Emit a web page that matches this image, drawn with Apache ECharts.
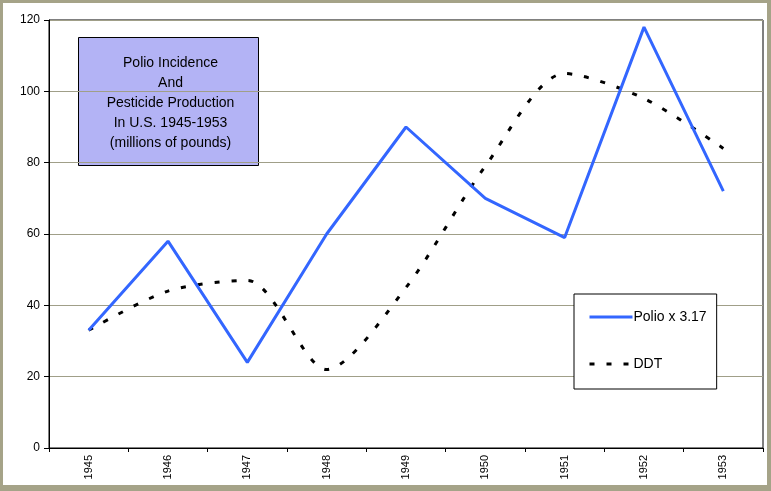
<!DOCTYPE html>
<html>
<head>
<meta charset="utf-8">
<script src="https://cdn.jsdelivr.net/npm/echarts@6/dist/echarts.min.js"></script>
<style>
  html, body { margin: 0; padding: 0; background: #a5a388; }
  #main { position: absolute; left: 3px; top: 3px; width: 764px; height: 482px; background: #fff; }
</style>
</head>
<body>
<div id="main"></div>
<script>
// data
var years = ['1945', '1946', '1947', '1948', '1949', '1950', '1951', '1952', '1953'];
var polio = [33, 58, 24, 60, 90, 70, 59, 118, 72];
var ddt = [33, 44, 47, 22, 45, 79, 105, 98, 84];
var titleLines = ['Polio Incidence', 'And', 'Pesticide Production', 'In U.S. 1945-1953', '(millions of pounds)'];

var font = '"Liberation Sans", Arial, sans-serif';
var chart = echarts.init(document.getElementById('main'));

chart.setOption({
  animation: false,
  textStyle: { fontFamily: font },
  grid: {
    left: 46, top: 17, right: 4, bottom: 37,
    show: true, borderColor: '#000', borderWidth: 1
  },
  xAxis: {
    type: 'category',
    data: years,
    boundaryGap: true,
    axisLine: { lineStyle: { color: '#000', width: 1 } },
    axisTick: { show: true, length: 4, lineStyle: { color: '#000' } },
    axisLabel: { rotate: 90, color: '#000', fontSize: 11, margin: 7, fontFamily: font }
  },
  yAxis: {
    type: 'value',
    min: 0, max: 120, interval: 20,
    axisLine: { show: true, lineStyle: { color: '#000', width: 1 } },
    axisTick: { show: true, length: 5, lineStyle: { color: '#000' } },
    axisLabel: { color: '#000', fontSize: 12, margin: 9, fontFamily: font },
    splitLine: { lineStyle: { color: '#a09f88', width: 1 } }
  },
  legend: {
    orient: 'vertical',
    left: 571, top: 291,
    backgroundColor: '#fff',
    borderColor: '#000', borderWidth: 1,
    padding: [16, 10, 18, 14],
    itemWidth: 43, itemHeight: 14, itemGap: 33,
    itemStyle: { opacity: 0 },
    lineStyle: { width: 3 },
    textStyle: { color: '#000', fontSize: 14, fontFamily: font, padding: [0, 0, 0, -4] },
    data: [{ name: 'Polio x 3.17' }, { name: 'DDT' }]
  },
  series: [
    {
      name: 'Polio x 3.17',
      type: 'line',
      data: polio,
      symbol: 'none',
      lineStyle: { color: '#3366ff', width: 3 },
      itemStyle: { color: '#3366ff' },
      z: 3
    },
    {
      name: 'DDT',
      type: 'line',
      data: ddt,
      smooth: 0.28,
      symbol: 'none',
      lineStyle: { color: '#000', width: 3, type: [5, 12] },
      itemStyle: { color: '#000' },
      z: 2
    }
  ],
  graphic: [
    {
      type: 'group',
      left: 75, top: 34,
      z: 10,
      children: [
        {
          type: 'rect',
          shape: { x: 0, y: 0, width: 180, height: 128 },
          style: { fill: '#b3b3f5', stroke: '#000', lineWidth: 1 }
        },
        {
          type: 'text',
          x: 92, y: 66,
          style: {
            text: titleLines.join('\n'),
            fill: '#000',
            font: '14px ' + font,
            lineHeight: 20,
            align: 'center',
            verticalAlign: 'middle'
          }
        }
      ]
    }
  ]
});
</script>
</body>
</html>
